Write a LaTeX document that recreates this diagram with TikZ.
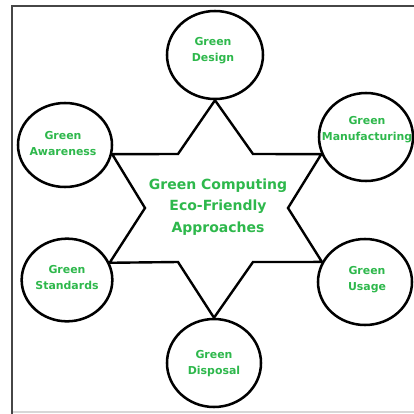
\documentclass[tikz,border=0pt]{standalone}
\usepackage{fontspec}
\setmainfont{DejaVu Sans}
\usetikzlibrary{shapes.geometric}
\definecolor{leaf}{RGB}{46,184,76}
\definecolor{frameline}{RGB}{70,70,70}
\definecolor{frameedge}{RGB}{215,215,215}
\begin{document}
\begin{tikzpicture}[x=0.75pt,y=-0.75pt,
  bubble/.style={ellipse,draw=black,line width=1.9pt,inner sep=0pt},
  label/.style={text=leaf,font=\bfseries\fontsize{8.2}{12}\selectfont,align=center},
  hub/.style={text=leaf,font=\bfseries\fontsize{10.5}{16}\selectfont,align=center},
  starline/.style={draw=black,line width=1.8pt,line join=miter}]
\useasboundingbox (0,0) rectangle (414,414);
\fill[white] (0,0) rectangle (414,414);

% page frame
\draw[frameedge,line width=1.2pt] (12,412) -- (414,412);
\draw[frameline,line width=1.6pt] (414,6) -- (12,6) -- (12,414);

% outer bubbles (sizes in pt: 0.75 pt per unit)
\node[bubble,minimum width=72pt,minimum height=66pt] (design) at (215,55) {};
\node[bubble,minimum width=70.5pt,minimum height=63pt] (aware) at (65,145) {};
\node[bubble,minimum width=70.5pt,minimum height=66pt] (manuf) at (366,137) {};
\node[bubble,minimum width=68pt,minimum height=62pt] (stand) at (67,280) {};
\node[bubble,minimum width=70.5pt,minimum height=64.5pt] (usage) at (365,282) {};
\node[bubble,minimum width=70.5pt,minimum height=66pt] (dispo) at (214,363) {};

% bubble labels
\node[label] (tdesign) at (213,51) {Green\\Design};
\node[label] (taware) at (63,144) {Green\\Awareness};
\node[label] (tmanuf) at (367,130) {Green\\Manufacturing};
\node[label] (tstand) at (67,278) {Green\\Standards};
\node[label] (tusage) at (367,279.5) {Green\\Usage};
\node[label] (tdispo) at (214,363.5) {Green\\Disposal};

% inner corners of the star
\coordinate (ul) at (178,154);
\coordinate (ur) at (253,154);
\coordinate (r)  at (288,208);
\coordinate (lr) at (253,262);
\coordinate (ll) at (178,262);
\coordinate (l)  at (145,208);

% six-pointed star joining the bubbles
\draw[starline] (design.south) -- (ur) -- (manuf.201) -- (r) -- (usage.155)
  -- (lr) -- (dispo.north) -- (ll) -- (stand.22) -- (l) -- (aware.-11)
  -- (ul) -- cycle;

% centre caption
\node[hub] (centre) at (218,207) {Green Computing\\Eco-Friendly\\Approaches};
\end{tikzpicture}
\end{document}
